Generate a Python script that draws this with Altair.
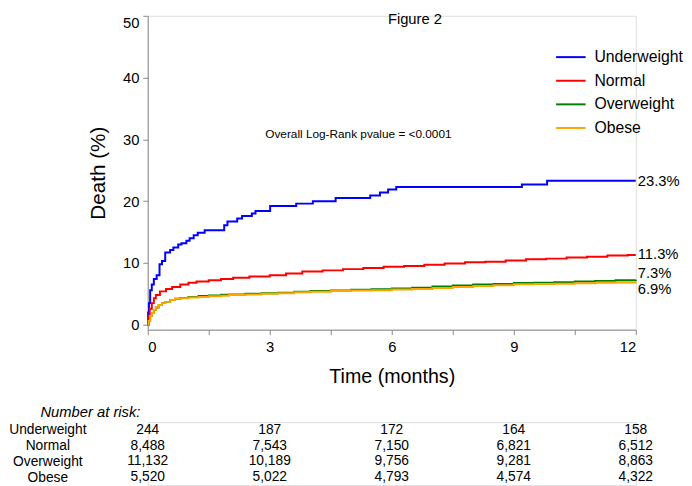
import altair as alt
import pandas as pd

FONT = "Liberation Sans"

GROUPS = ["Underweight", "Normal", "Overweight", "Obese"]
COLORS = ["#0000FF", "#FF0000", "#008000", "#FFA500"]

# Cumulative death (%) step curves
uw_t = [0, 0.01, 0.03, 0.06, 0.10, 0.15, 0.22, 0.29, 0.35, 0.43, 0.55, 0.63, 0.75,
        0.83, 0.95, 1.03, 1.13, 1.23, 1.40, 1.88, 1.96, 2.20, 2.32, 2.56, 2.65, 3.01,
        3.65, 4.06, 4.62, 5.47, 5.71, 5.91, 6.11, 9.20, 9.82, 12.0]
uw_v = [0, 2.0, 3.5, 5.6, 6.5, 7.4, 8.0, 9.8, 10.3, 11.7, 12.1, 12.5, 13.0,
        13.2, 13.6, 14.0, 14.5, 14.9, 15.3, 16.1, 16.7, 17.2, 17.6, 18.0, 18.4, 19.2,
        19.6, 20.0, 20.5, 20.9, 21.4, 21.9, 22.3, 22.7, 23.3, 23.3]

nw_t = [0, 0.02, 0.05, 0.10, 0.15, 0.2, 0.3, 0.45, 0.6, 0.8, 1.0, 1.2, 1.5, 1.8, 2.1,
        2.5, 3.0, 3.4, 3.8, 4.3, 4.8, 5.3, 5.8, 6.3, 6.8, 7.3, 7.8, 8.3, 8.8, 9.3, 9.8,
        10.3, 10.8, 11.3, 11.8, 12.0]
nw_v = [0, 1.4, 2.6, 3.5, 4.3, 4.8, 5.4, 5.8, 6.1, 6.5, 6.8, 7.0, 7.2, 7.4, 7.6,
        7.8, 8.0, 8.3, 8.6, 8.8, 9.0, 9.2, 9.4, 9.5, 9.7, 9.9, 10.1, 10.2, 10.4, 10.6, 10.7,
        10.9, 11.0, 11.2, 11.3, 11.3]

ow_t = [0, 0.02, 0.06, 0.10, 0.15, 0.2, 0.27, 0.35, 0.43, 0.55, 0.67, 0.8, 1.0, 1.25,
        1.5, 1.8, 2.0, 2.4, 2.8, 3.2, 3.6, 4.0, 4.5, 5.0, 5.5, 6.0, 6.5, 7.0, 7.5, 8.0,
        8.5, 9.0, 9.5, 10.0, 10.5, 11.0, 11.5, 12.0]
ow_v = [0, 0.6, 1.4, 1.9, 2.4, 2.8, 3.2, 3.5, 3.7, 4.0, 4.2, 4.35, 4.5, 4.65,
        4.75, 4.85, 4.9, 5.0, 5.1, 5.2, 5.35, 5.45, 5.55, 5.65, 5.75, 5.85, 6.0, 6.2, 6.35, 6.5,
        6.6, 6.75, 6.8, 6.9, 7.0, 7.1, 7.2, 7.3]

ob_t = ow_t
ob_v = [0, 0.6, 1.4, 1.9, 2.4, 2.8, 3.2, 3.5, 3.7, 4.0, 4.2, 4.3, 4.4, 4.5,
        4.6, 4.7, 4.8, 4.9, 5.0, 5.1, 5.25, 5.35, 5.45, 5.55, 5.6, 5.7, 5.8, 5.95, 6.1, 6.25,
        6.4, 6.55, 6.6, 6.65, 6.7, 6.8, 6.85, 6.9]

END_LABELS = ["23.3%", "11.3%", "7.3%", "6.9%"]
END_VALUES = [23.3, 11.3, 7.3, 6.9]
END_DY = [0, -1, -7, 7]

RISK_TIMES = [0, 3, 6, 9, 12]
risk_uw = [244, 187, 172, 164, 158]
risk_nw = [8488, 7543, 7150, 6821, 6512]
risk_ow = [11132, 10189, 9756, 9281, 8863]
risk_ob = [5520, 5022, 4793, 4574, 4322]

X_TICKS = [0, 1.5, 3, 4.5, 6, 7.5, 9, 10.5, 12]
Y_TICKS = [0, 10, 20, 30, 40, 50]

ANNOT_TEXT = ["Figure 2", "Overall Log-Rank pvalue = <0.0001"]
ANNOT_X = [6.57, 5.18]
ANNOT_Y = [49.4, 30.9]
ANNOT_SIZE = [15, 12]

# ---------- data tables ----------
rows = []
for g, ts, vs in [("Underweight", uw_t, uw_v), ("Normal", nw_t, nw_v),
                  ("Overweight", ow_t, ow_v), ("Obese", ob_t, ob_v)]:
    for t, v in zip(ts, vs):
        rows.append({"group": g, "t": t, "v": v})
curves = pd.DataFrame(rows)

risk_rows = []
for g, ns in zip(GROUPS, [risk_uw, risk_nw, risk_ow, risk_ob]):
    for t, n in zip(RISK_TIMES, ns):
        risk_rows.append({"group": g, "time": t, "n": n})
risk = pd.DataFrame(risk_rows)

x_scale = alt.Scale(domain=[0, 12], nice=False)
y_scale = alt.Scale(domain=[-0.8, 50], nice=False, zero=False)

lines = alt.Chart(curves).mark_line(interpolate="step-after", strokeWidth=2).encode(
    x=alt.X("t:Q", scale=x_scale,
            axis=alt.Axis(title="Time (months)", values=X_TICKS,
                          labelExpr="datum.value % 3 === 0 ? datum.label : ''",
                          grid=False, tickSize=5, labelPadding=5, titlePadding=13,
                          labelFontSize=15, titleFontSize=20, titleFontWeight="normal")),
    y=alt.Y("v:Q", scale=y_scale,
            axis=alt.Axis(title="Death (%)", values=Y_TICKS, grid=False, tickSize=5,
                          labelPadding=4, labelFlush=True, titlePadding=14,
                          labelFontSize=15, titleFontSize=21, titleFontWeight="normal")),
    color=alt.Color("group:N", scale=alt.Scale(domain=GROUPS, range=COLORS),
                    legend=alt.Legend(title=None, orient="none", legendX=414, legendY=26,
                                      symbolType="stroke", symbolSize=900,
                                      symbolStrokeWidth=2, labelFontSize=16,
                                      labelOffset=8, rowPadding=-3, padding=0,
                                      labelFont=FONT, labelColor="black")),
)

layers = [lines]
for g, lab, val, dy in zip(GROUPS, END_LABELS, END_VALUES, END_DY):
    d = pd.DataFrame({"t": [12], "v": [val], "label": [lab]})
    layers.append(alt.Chart(d).mark_text(align="left", baseline="middle", dx=2, dy=dy,
                                         fontSize=15, font=FONT, color="black").encode(
        x=alt.X("t:Q", scale=x_scale), y=alt.Y("v:Q", scale=y_scale), text="label:N"))

for txt, ax, ay, sz in zip(ANNOT_TEXT, ANNOT_X, ANNOT_Y, ANNOT_SIZE):
    d = pd.DataFrame({"t": [ax], "v": [ay], "label": [txt]})
    layers.append(alt.Chart(d).mark_text(align="center", baseline="middle",
                                         fontSize=sz, font=FONT, color="black").encode(
        x=alt.X("t:Q", scale=x_scale), y=alt.Y("v:Q", scale=y_scale), text="label:N"))

main = alt.layer(*layers).properties(width=496, height=319)

table = alt.Chart(risk).mark_text(fontSize=14, font=FONT, color="black",
                                  align="center", baseline="middle").encode(
    x=alt.X("time:Q", scale=alt.Scale(domain=[0, 12], nice=False), axis=None),
    y=alt.Y("group:N", sort=GROUPS,
            scale=alt.Scale(paddingInner=0, paddingOuter=0),
            axis=alt.Axis(title=None, domain=False, ticks=False, labelAlign="center",
                          labelBaseline="middle", labelPadding=102, labelFontSize=14,
                          labelColor="black", labelFont=FONT)),
    text=alt.Text("n:Q", format=","),
).properties(
    width=496, height=64,
    title=alt.TitleParams("Number at risk:", anchor="start", frame="group", dx=-109,
                          fontStyle="italic", fontWeight="normal", fontSize=15,
                          font=FONT, color="black", offset=2),
)

chart = alt.vconcat(main, table, spacing=17).resolve_scale(
    x="independent", y="independent", color="independent"
).resolve_legend(color="independent").properties(
    padding={"left": 0, "top": 0, "right": 0, "bottom": 0}
).configure_view(stroke=None).configure_axis(
    labelFont=FONT, titleFont=FONT, labelColor="black", titleColor="black",
    titleFontWeight="normal", domainColor="#808080", tickColor="#808080",
    domainWidth=1.5, tickWidth=1.5
).configure(background="white")

chart.save("out.html", embed_options={"renderer": "svg", "actions": False})
